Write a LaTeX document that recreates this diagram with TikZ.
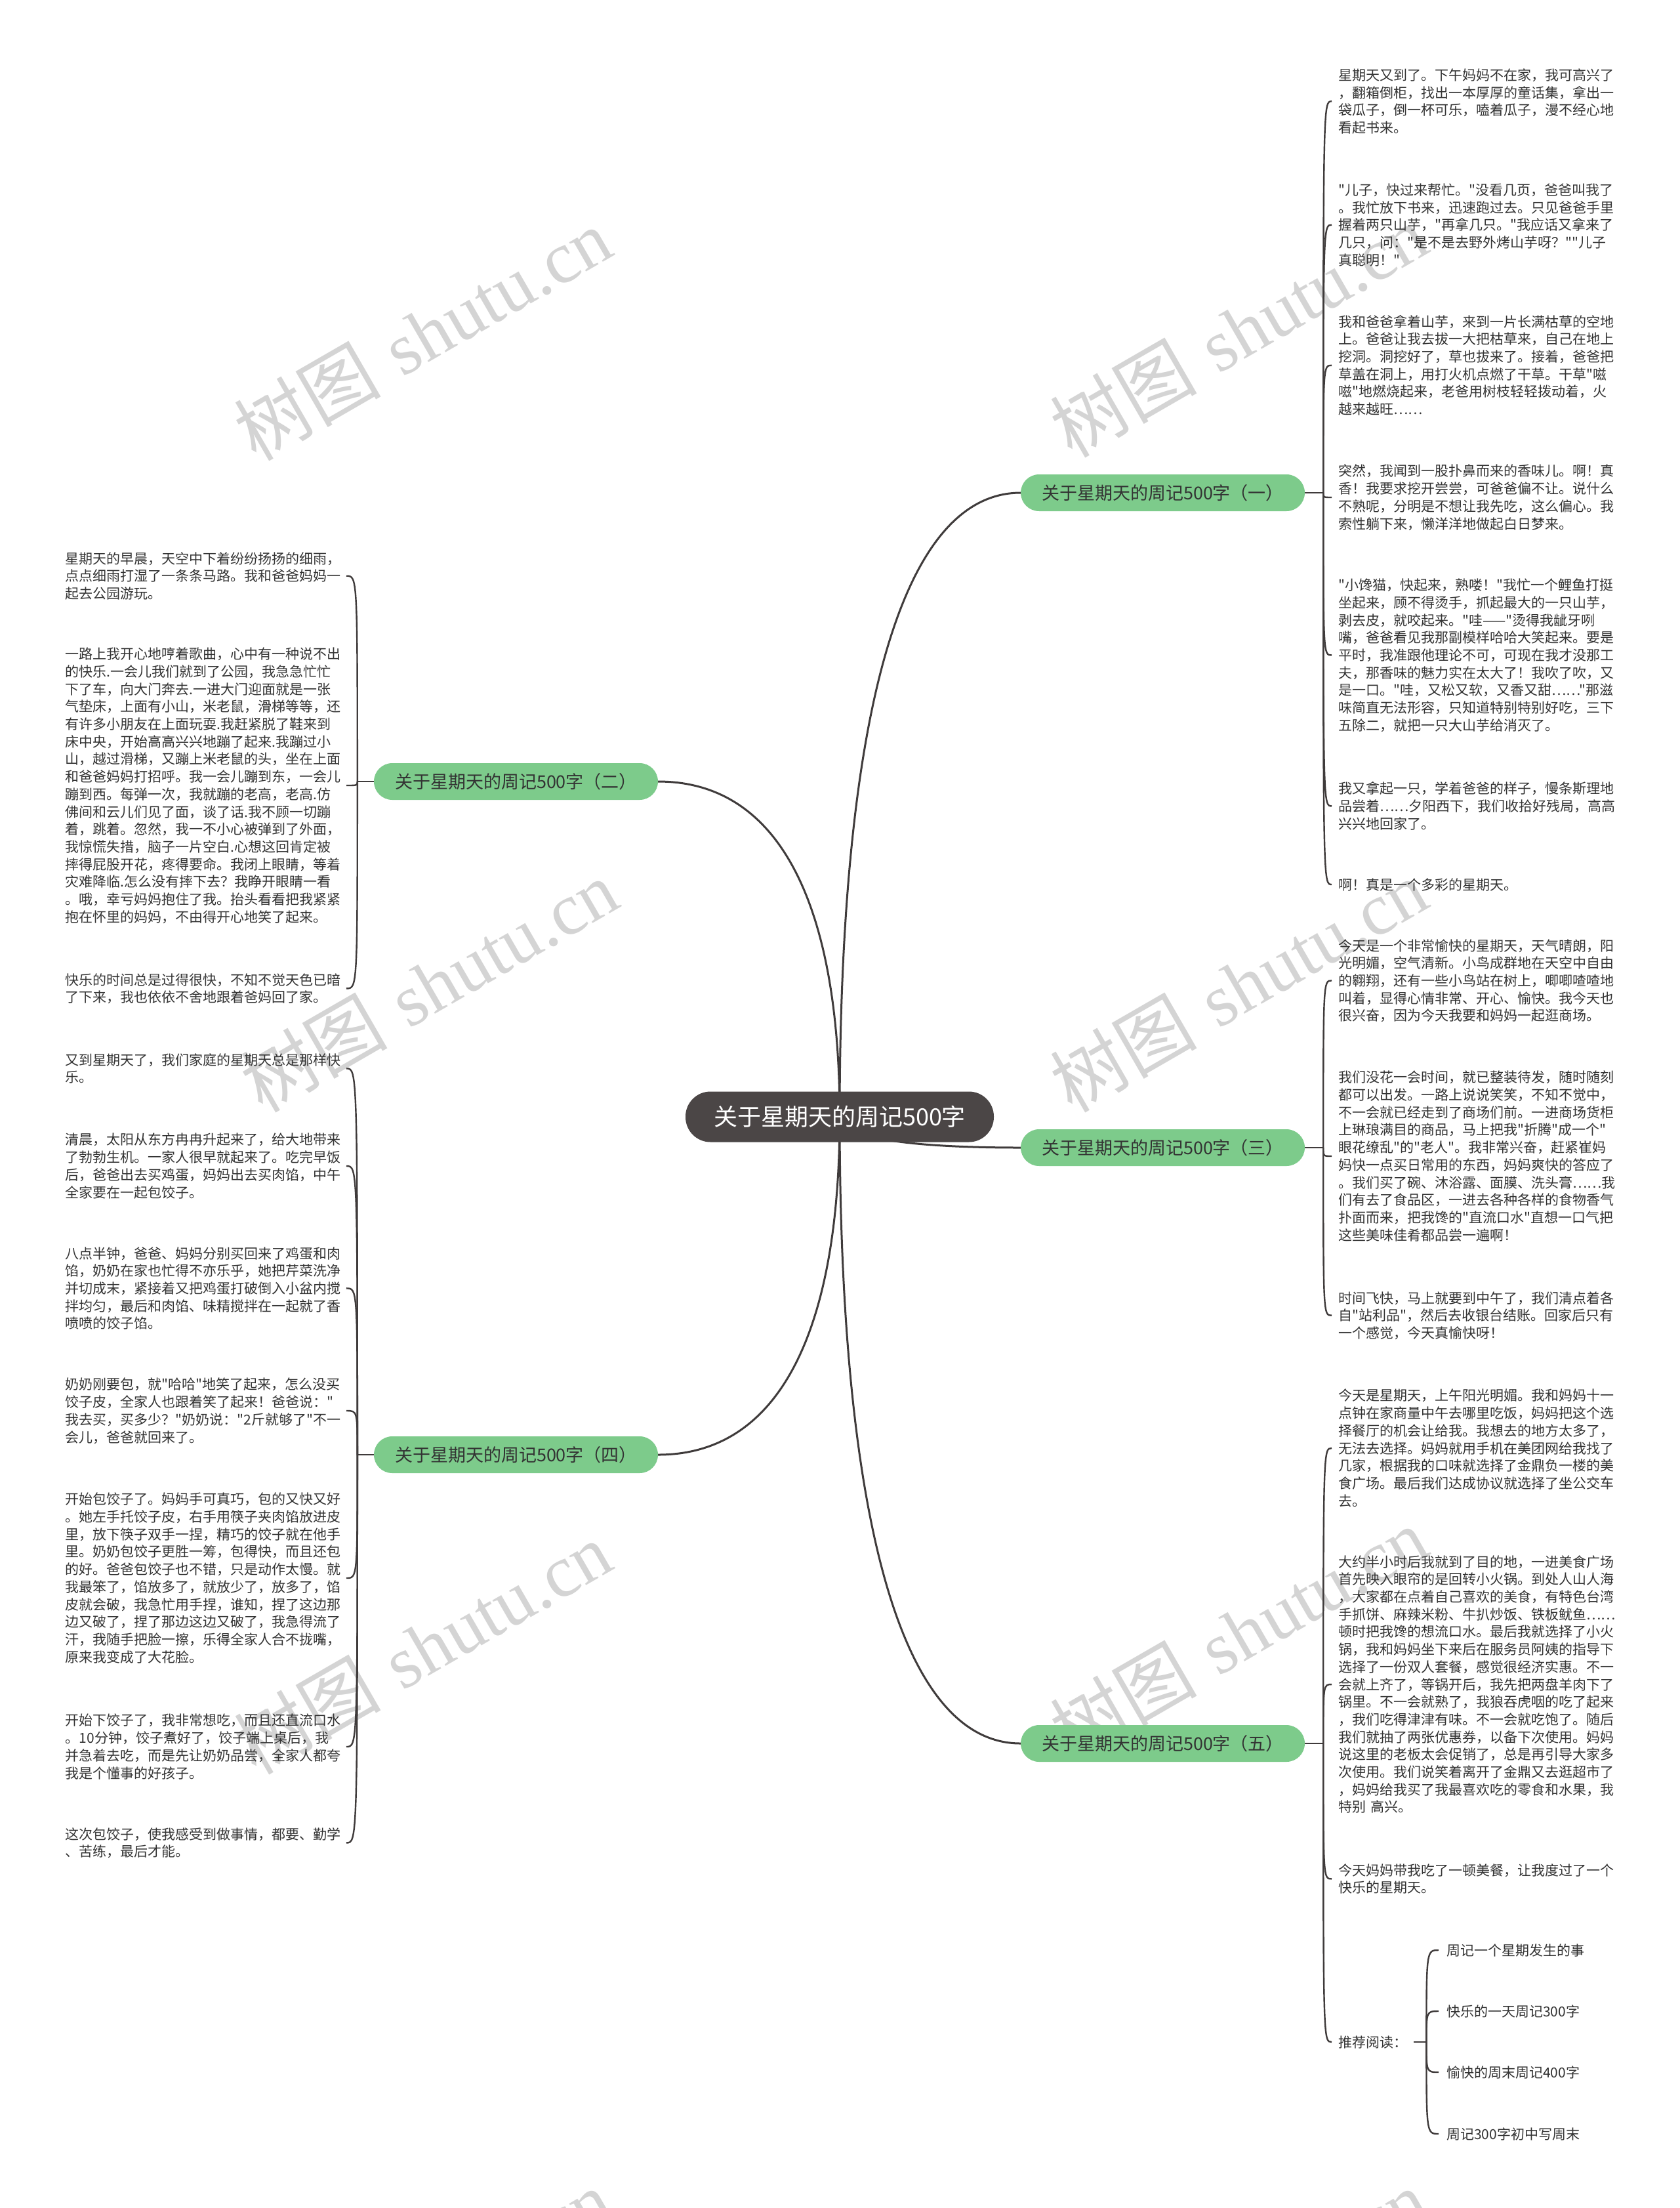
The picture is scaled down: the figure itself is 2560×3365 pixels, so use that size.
\documentclass[tikz,border=0pt]{standalone}
\usepackage{fontspec}
\newfontfamily\cjk{Noto Sans CJK SC}
\newfontfamily\wmserif{Liberation Serif}
\usetikzlibrary{calc}
\definecolor{leafgreen}{HTML}{7DCB8B}
\definecolor{centerdark}{HTML}{4B4646}
\definecolor{linec}{HTML}{3F3B3B}
\definecolor{wmcol}{HTML}{D4D4D4}
\definecolor{txt}{HTML}{333333}
\newcommand\myTop{\rule{0pt}{19pt}}
\newcommand\myBot{\rule[-3pt]{0pt}{3pt}}
\pgfdeclarelayer{wmlayer}
\pgfdeclarelayer{bglayer}
\pgfsetlayers{wmlayer,bglayer,main}
\begin{document}
\begin{tikzpicture}[x=1pt,y=-1pt,
  centernode/.style={fill=centerdark, text=white, rounded corners=38pt, minimum width=470pt, minimum height=77pt, font=\cjk\fontsize{36}{42}\selectfont, inner sep=0pt},
  branchnode/.style={fill=leafgreen, text=txt, rounded corners=28pt, minimum width=433pt, minimum height=56pt, font=\cjk\fontsize{27}{31}\selectfont, inner sep=0pt},
  leafR/.style={anchor=west, text width=424pt, align=left, inner xsep=10pt, inner ysep=0pt, font=\cjk\fontsize{21}{26.7}\selectfont, text=txt},
  leafL/.style={anchor=east, text width=424pt, align=left, inner xsep=4pt, inner ysep=0pt, font=\cjk\fontsize{21}{26.7}\selectfont, text=txt},
  leafone/.style={anchor=west, inner xsep=10pt, inner ysep=0pt, font=\cjk\fontsize{21}{26.7}\selectfont, text=txt},
  subleaf/.style={anchor=west, inner xsep=12pt, inner ysep=0pt, font=\cjk\fontsize{21}{26.7}\selectfont, text=txt},
  mainline/.style={draw=linec, line width=3pt},
  subline/.style={draw=linec, line width=2.4pt},
  wmark/.style={text=wmcol, rotate=30, inner sep=0pt, font=\fontsize{112}{120}\selectfont}
]
\useasboundingbox (0,0) rectangle (2560,3365);
\begin{pgfonlayer}{wmlayer}
\fill[white] (0,0) rectangle (2560,3365);
\foreach \wx/\wy [count=\i] in {644/509, 1888/504, 654/1502, 1888/1502, 644/2511, 1888/2489, 644/3498, 1888/3498}{
  \node[wmark] (wm\i) at (\wx,\wy) {{\cjk 树图} {\wmserif shutu.cn}};
}
\end{pgfonlayer}

% center and branches
\node[centernode] (c) at (1280,1702) {关于星期天的周记500字};
\node[branchnode] (b1) at (1772.5,751) {关于星期天的周记500字（一）};
\node[branchnode] (b2) at (786.5,1191) {关于星期天的周记500字（二）};
\node[branchnode] (b3) at (1772.5,1749) {关于星期天的周记500字（三）};
\node[branchnode] (b4) at (786.5,2217) {关于星期天的周记500字（四）};
\node[branchnode] (b5) at (1772.5,2657) {关于星期天的周记500字（五）};

% branch 1 leaves
\node[leafR] (r1a) at (2030,154.4) {\myTop 星期天又到了。下午妈妈不在家，我可高兴了\\，翻箱倒柜，找出一本厚厚的童话集，拿出一\\袋瓜子，倒一杯可乐，嗑着瓜子，漫不经心地\\看起书来。\myBot};
\node[leafR] (r1b) at (2030,342.7) {\myTop "儿子，快过来帮忙。"没看几页，爸爸叫我了\\。我忙放下书来，迅速跑过去。只见爸爸手里\\握着两只山芋，"再拿几只。"我应话又拿来了\\几只，问："是不是去野外烤山芋呀？""儿子\\真聪明！"\myBot};
\node[leafR] (r1c) at (2030,556.8) {\myTop 我和爸爸拿着山芋，来到一片长满枯草的空地\\上。爸爸让我去拔一大把枯草来，自己在地上\\挖洞。洞挖好了，草也拔来了。接着，爸爸把\\草盖在洞上，用打火机点燃了干草。干草"嗞\\嗞"地燃烧起来，老爸用树枝轻轻拨动着，火\\越来越旺……\myBot};
\node[leafR] (r1d) at (2030,758) {\myTop 突然，我闻到一股扑鼻而来的香味儿。啊！真\\香！我要求挖开尝尝，可爸爸偏不让。说什么\\不熟呢，分明是不想让我先吃，这么偏心。我\\索性躺下来，懒洋洋地做起白日梦来。\myBot};
\node[leafR] (r1e) at (2030,998.5) {\myTop "小馋猫，快起来，熟喽！"我忙一个鲤鱼打挺\\坐起来，顾不得烫手，抓起最大的一只山芋，\\剥去皮，就咬起来。"哇——"烫得我龇牙咧\\嘴，爸爸看见我那副模样哈哈大笑起来。要是\\平时，我准跟他理论不可，可现在我才没那工\\夫，那香味的魅力实在太大了！我吹了吹，又\\是一口。"哇，又松又软，又香又甜……"那滋\\味简直无法形容，只知道特别特别好吃，三下\\五除二，就把一只大山芋给消灭了。\myBot};
\node[leafR] (r1f) at (2030,1228.4) {\myTop 我又拿起一只，学着爸爸的样子，慢条斯理地\\品尝着……夕阳西下，我们收拾好残局，高高\\兴兴地回家了。\myBot};
\node[leafR] (r1g) at (2030,1348) {\myTop 啊！真是一个多彩的星期天。\myBot};

% branch 3 leaves
\node[leafR] (r3a) at (2030,1494.4) {\myTop 今天是一个非常愉快的星期天，天气晴朗，阳\\光明媚，空气清新。小鸟成群地在天空中自由\\的翱翔，还有一些小鸟站在树上，唧唧喳喳地\\叫着，显得心情非常、开心、愉快。我今天也\\很兴奋，因为今天我要和妈妈一起逛商场。\myBot};
\node[leafR] (r3b) at (2030,1762) {\myTop 我们没花一会时间，就已整装待发，随时随刻\\都可以出发。一路上说说笑笑，不知不觉中，\\不一会就已经走到了商场们前。一进商场货柜\\上琳琅满目的商品，马上把我"折腾"成一个"\\眼花缭乱"的"老人"。我非常兴奋，赶紧崔妈\\妈快一点买日常用的东西，妈妈爽快的答应了\\。我们买了碗、沐浴露、面膜、洗头膏……我\\们有去了食品区，一进去各种各样的食物香气\\扑面而来，把我馋的"直流口水"直想一口气把\\这些美味佳肴都品尝一遍啊！\myBot};
\node[leafR] (r3c) at (2030,2004.7) {\myTop 时间飞快，马上就要到中午了，我们清点着各\\自"站利品"，然后去收银台结账。回家后只有\\一个感觉，今天真愉快呀！\myBot};

% branch 5 leaves
\node[leafR] (r5a) at (2030,2207) {\myTop 今天是星期天，上午阳光明媚。我和妈妈十一\\点钟在家商量中午去哪里吃饭，妈妈把这个选\\择餐厅的机会让给我。我想去的地方太多了，\\无法去选择。妈妈就用手机在美团网给我找了\\几家，根据我的口味就选择了金鼎负一楼的美\\食广场。最后我们达成协议就选择了坐公交车\\去。\myBot};
\node[leafR] (r5b) at (2030,2567) {\myTop 大约半小时后我就到了目的地，一进美食广场\\首先映入眼帘的是回转小火锅。到处人山人海\\，大家都在点着自己喜欢的美食，有特色台湾\\手抓饼、麻辣米粉、牛扒炒饭、铁板鱿鱼……\\顿时把我馋的想流口水。最后我就选择了小火\\锅，我和妈妈坐下来后在服务员阿姨的指导下\\选择了一份双人套餐，感觉很经济实惠。不一\\会就上齐了，等锅开后，我先把两盘羊肉下了\\锅里。不一会就熟了，我狼吞虎咽的吃了起来\\，我们吃得津津有味。不一会就吃饱了。随后\\我们就抽了两张优惠券，以备下次使用。妈妈\\说这里的老板太会促销了，总是再引导大家多\\次使用。我们说笑着离开了金鼎又去逛超市了\\，妈妈给我买了我最喜欢吃的零食和水果，我\\特别 高兴。\myBot};
\node[leafR] (r5c) at (2030,2863.4) {\myTop 今天妈妈带我吃了一顿美餐，让我度过了一个\\快乐的星期天。\myBot};
\node[leafone] (r5d) at (2030,3112) {\myTop 推荐阅读：\myBot};
\node[subleaf] (s1n) at (2193,2972) {\myTop 周记一个星期发生的事\myBot};
\node[subleaf] (s2n) at (2193,3065) {\myTop 快乐的一天周记300字\myBot};
\node[subleaf] (s3n) at (2193,3158) {\myTop 愉快的周末周记400字\myBot};
\node[subleaf] (s4n) at (2193,3252) {\myTop 周记300字初中写周末\myBot};

% branch 2 leaves
\node[leafL] (l2a) at (528,877.7) {\myTop 星期天的早晨，天空中下着纷纷扬扬的细雨，\\点点细雨打湿了一条条马路。我和爸爸妈妈一\\起去公园游玩。\myBot};
\node[leafL] (l2b) at (528,1197) {\myTop 一路上我开心地哼着歌曲，心中有一种说不出\\的快乐.一会儿我们就到了公园，我急急忙忙\\下了车，向大门奔去.一进大门迎面就是一张\\气垫床，上面有小山，米老鼠，滑梯等等，还\\有许多小朋友在上面玩耍.我赶紧脱了鞋来到\\床中央，开始高高兴兴地蹦了起来.我蹦过小\\山，越过滑梯，又蹦上米老鼠的头，坐在上面\\和爸爸妈妈打招呼。我一会儿蹦到东，一会儿\\蹦到西。每弹一次，我就蹦的老高，老高.仿\\佛间和云儿们见了面，谈了话.我不顾一切蹦\\着，跳着。忽然，我一不小心被弹到了外面，\\我惊慌失措，脑子一片空白.心想这回肯定被\\摔得屁股开花，疼得要命。我闭上眼睛，等着\\灾难降临.怎么没有摔下去？我睁开眼睛一看\\。哦，幸亏妈妈抱住了我。抬头看看把我紧紧\\抱在怀里的妈妈，不由得开心地笑了起来。\myBot};
\node[leafL] (l2c) at (528,1506.4) {\myTop 快乐的时间总是过得很快，不知不觉天色已暗\\了下来，我也依依不舍地跟着爸妈回了家。\myBot};

% branch 4 leaves
\node[leafL] (l4a) at (528,1628.4) {\myTop 又到星期天了，我们家庭的星期天总是那样快\\乐。\myBot};
\node[leafL] (l4b) at (528,1777) {\myTop 清晨，太阳从东方冉冉升起来了，给大地带来\\了勃勃生机。一家人很早就起来了。吃完早饭\\后，爸爸出去买鸡蛋，妈妈出去买肉馅，中午\\全家要在一起包饺子。\myBot};
\node[leafL] (l4c) at (528,1963.4) {\myTop 八点半钟，爸爸、妈妈分别买回来了鸡蛋和肉\\馅，奶奶在家也忙得不亦乐乎，她把芹菜洗净\\并切成末，紧接着又把鸡蛋打破倒入小盆内搅\\拌均匀，最后和肉馅、味精搅拌在一起就了香\\喷喷的饺子馅。\myBot};
\node[leafL] (l4d) at (528,2150) {\myTop 奶奶刚要包，就"哈哈"地笑了起来，怎么没买\\饺子皮，全家人也跟着笑了起来！爸爸说："\\我去买，买多少？"奶奶说："2斤就够了"不一\\会儿，爸爸就回来了。\myBot};
\node[leafL] (l4e) at (528,2405) {\myTop 开始包饺子了。妈妈手可真巧，包的又快又好\\。她左手托饺子皮，右手用筷子夹肉馅放进皮\\里，放下筷子双手一捏，精巧的饺子就在他手\\里。奶奶包饺子更胜一筹，包得快，而且还包\\的好。爸爸包饺子也不错，只是动作太慢。就\\我最笨了，馅放多了，就放少了，放多了，馅\\皮就会破，我急忙用手捏，谁知，捏了这边那\\边又破了，捏了那边这边又破了，我急得流了\\汗，我随手把脸一擦，乐得全家人合不拢嘴，\\原来我变成了大花脸。\myBot};
\node[leafL] (l4f) at (528,2662) {\myTop 开始下饺子了，我非常想吃，而且还直流口水\\。10分钟，饺子煮好了，饺子端上桌后，我\\并急着去吃，而是先让奶奶品尝，全家人都夸\\我是个懂事的好孩子。\myBot};
\node[leafL] (l4g) at (528,2808.4) {\myTop 这次包饺子，使我感受到做事情，都要、勤学\\、苦练，最后才能。\myBot};

\begin{pgfonlayer}{bglayer}
% center to branches
\foreach \b in {b1,b3,b5}{
  \draw[mainline] (c.center) .. controls ($(c.center)!0.6!(c.center |- \b.west)$) and ($(\b.west)!0.7!(\b.west -| c.center)$) .. (\b.west);
}
\foreach \b in {b2,b4}{
  \draw[mainline] (c.center) .. controls ($(c.center)!0.6!(c.center |- \b.east)$) and ($(\b.east)!0.7!(\b.east -| c.center)$) .. (\b.east);
}
% spines
\coordinate (sp1) at ($(b1.east)+(28,0)$);
\coordinate (sp3) at ($(b3.east)+(28,0)$);
\coordinate (sp5) at ($(b5.east)+(28,0)$);
\coordinate (sp2) at ($(b2.west)+(-25,0)$);
\coordinate (sp4) at ($(b4.west)+(-25,0)$);
\coordinate (sp5d) at ($(r5d.east)+(19,0)$);
\draw[subline] (b1.east) -- (sp1);
\draw[subline] (b3.east) -- (sp3);
\draw[subline] (b5.east) -- (sp5);
\draw[subline] (b2.west) -- (sp2);
\draw[subline] (b4.west) -- (sp4);
\draw[subline] (r5d.east) -- (sp5d);
\foreach \l in {r1a,r1b,r1c,r1d,r1e,r1f,r1g}{
  \draw[subline] (sp1) .. controls (sp1 |- \l.west) .. (\l.west);
}
\foreach \l in {r3a,r3b,r3c}{
  \draw[subline] (sp3) .. controls (sp3 |- \l.west) .. (\l.west);
}
\foreach \l in {r5a,r5b,r5c,r5d}{
  \draw[subline] (sp5) .. controls (sp5 |- \l.west) .. (\l.west);
}
\foreach \l in {s1n,s2n,s3n,s4n}{
  \draw[subline] (sp5d) .. controls (sp5d |- \l.west) .. (\l.west);
}
\foreach \l in {l2a,l2b,l2c}{
  \draw[subline] (sp2) .. controls (sp2 |- \l.east) .. (\l.east);
}
\foreach \l in {l4a,l4b,l4c,l4d,l4e,l4f,l4g}{
  \draw[subline] (sp4) .. controls (sp4 |- \l.east) .. (\l.east);
}
\end{pgfonlayer}
\end{tikzpicture}
\end{document}
